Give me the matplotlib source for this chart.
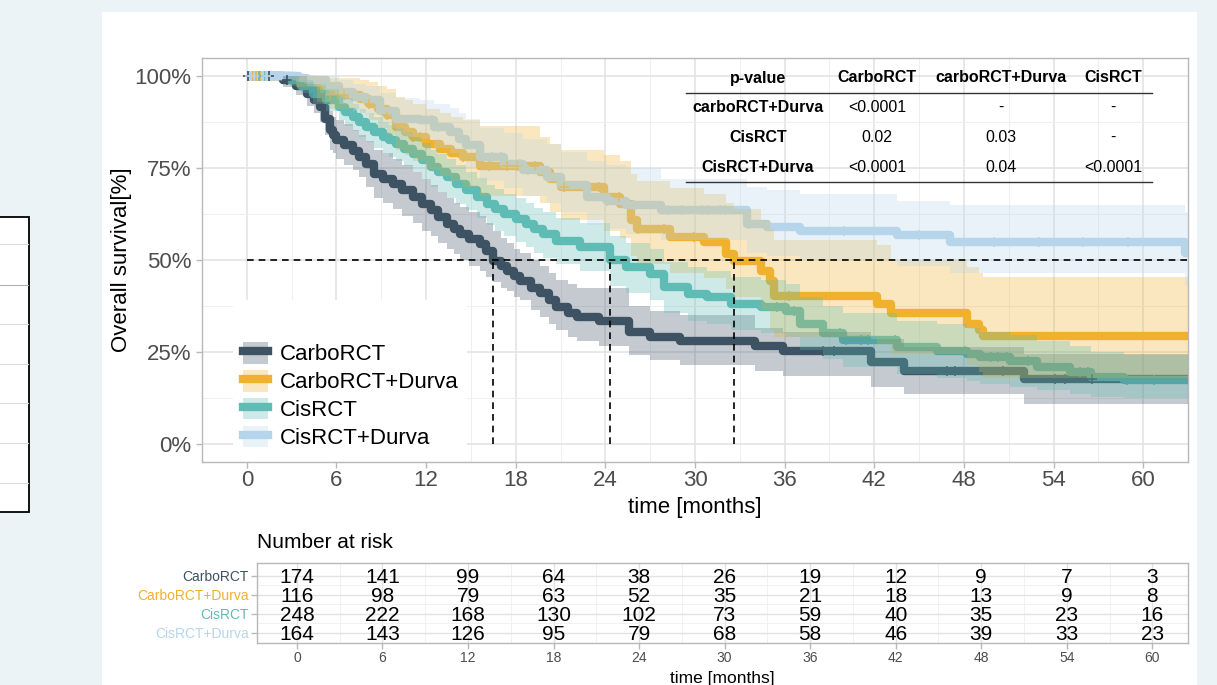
import numpy as np
import matplotlib
matplotlib.use("Agg")
import matplotlib.pyplot as plt
from matplotlib.patches import Rectangle, Patch
from matplotlib.lines import Line2D
from matplotlib.ticker import MultipleLocator, FixedLocator

plt.rcParams['font.family'] = ['Liberation Sans', 'DejaVu Sans']

# ---------------- data ----------------
groups = ["CarboRCT", "CarboRCT+Durva", "CisRCT", "CisRCT+Durva"]
colors = ["#3D5262", "#EFB12E", "#5FBCB4", "#B7D5EA"]
follow_up_end = 63.0

# CarboRCT
t_carbo = [0, 2.4, 3.3, 4.0, 4.5, 4.9, 5.25, 5.6, 5.8, 6.0, 6.5, 7.1, 7.5, 8.0, 8.5, 9.1, 9.8, 10.4,
           11.1, 11.7, 12.3, 12.8, 13.4, 13.9, 14.3, 14.9, 15.6, 16.0, 16.5, 17.0, 17.4, 17.9, 18.3, 19.0,
           19.6, 20.2, 20.7, 21.5, 22.1, 23.6, 25.6, 27.0, 29.0, 34.0, 35.9, 41.8, 44.0, 52.0]
s_carbo = [1.0, 0.99, 0.975, 0.953, 0.935, 0.916, 0.885, 0.853, 0.84, 0.826, 0.812, 0.798, 0.78, 0.762,
           0.735, 0.72, 0.708, 0.69, 0.671, 0.653, 0.635, 0.617, 0.599, 0.585, 0.571, 0.558, 0.544, 0.525,
           0.497, 0.483, 0.47, 0.457, 0.444, 0.425, 0.409, 0.39, 0.371, 0.355, 0.344, 0.335, 0.303, 0.29,
           0.28, 0.265, 0.253, 0.222, 0.199, 0.177]
lo_carbo = [1.0, 0.97, 0.95, 0.92, 0.9, 0.875, 0.84, 0.80, 0.79, 0.775, 0.76, 0.745, 0.725, 0.70, 0.67,
            0.655, 0.64, 0.62, 0.60, 0.58, 0.565, 0.545, 0.53, 0.515, 0.50, 0.485, 0.47, 0.455, 0.44,
            0.425, 0.415, 0.4, 0.39, 0.365, 0.345, 0.325, 0.31, 0.29, 0.28, 0.267, 0.24, 0.228, 0.215,
            0.199, 0.185, 0.153, 0.136, 0.109]
hi_carbo = [1.0, 1.0, 1.0, 0.985, 0.97, 0.955, 0.93, 0.905, 0.89, 0.88, 0.87, 0.855, 0.84, 0.825, 0.80,
            0.79, 0.775, 0.76, 0.74, 0.72, 0.705, 0.685, 0.67, 0.655, 0.645, 0.63, 0.62, 0.6, 0.58, 0.56,
            0.545, 0.53, 0.52, 0.5, 0.485, 0.465, 0.445, 0.435, 0.425, 0.425, 0.375, 0.36, 0.35, 0.315,
            0.305, 0.285, 0.262, 0.245]
c_carbo = [0.1, 1.5, 2.7, 38.6, 39.3, 46.9, 47.4, 50.6, 54.1, 54.8, 56.6]

# CarboRCT+Durva
t_cdur = [0, 3.3, 4.7, 5.6, 7.6, 8.2, 8.8, 9.4, 10.0, 10.6, 11.1, 12.0, 12.9, 13.7, 14.5, 15.6, 19.6,
          20.3, 21.0, 23.9, 25.0, 25.7, 26.1, 28.3, 30.6, 32.1, 32.6, 34.4, 35.0, 35.3, 42.2, 43.1, 48.2,
          49.0, 49.3]
s_cdur = [1.0, 0.989, 0.962, 0.948, 0.939, 0.926, 0.91, 0.894, 0.862, 0.848, 0.835, 0.817, 0.803, 0.79,
          0.78, 0.757, 0.739, 0.72, 0.70, 0.671, 0.653, 0.608, 0.585, 0.562, 0.549, 0.517, 0.497, 0.471,
          0.444, 0.401, 0.381, 0.357, 0.327, 0.31, 0.294]
lo_cdur = [1.0, 0.97, 0.93, 0.91, 0.9, 0.88, 0.86, 0.84, 0.80, 0.785, 0.77, 0.745, 0.73, 0.715, 0.70,
           0.675, 0.655, 0.63, 0.61, 0.58, 0.56, 0.51, 0.49, 0.465, 0.45, 0.42, 0.40, 0.365, 0.31, 0.29,
           0.27, 0.245, 0.215, 0.195, 0.18]
hi_cdur = [1.0, 1.0, 1.0, 0.995, 0.99, 0.985, 0.975, 0.965, 0.945, 0.935, 0.925, 0.91, 0.9, 0.89, 0.88,
           0.865, 0.835, 0.815, 0.80, 0.785, 0.77, 0.735, 0.715, 0.695, 0.68, 0.655, 0.64, 0.61, 0.585,
           0.555, 0.54, 0.50, 0.48, 0.465, 0.455]
c_cdur = [0.4, 0.6, 0.9, 5.6, 6.1, 6.5, 8.2, 9.4, 11.1, 11.6, 14.5, 16.2, 17.4, 18.1, 19.3,
          21.2, 23.6, 24.9, 26.2, 27.9, 29.9, 36.3]

# CisRCT
t_cis = [0, 2.9, 3.6, 4.4, 5.3, 6.2, 6.6, 7.1, 7.5, 8.0, 8.5, 9.1, 9.5, 10.0, 10.5, 11.1, 11.7, 12.3,
         12.8, 13.4, 14.0, 14.7, 15.4, 16.1, 16.6, 17.2, 18.0, 18.7, 19.2, 19.8, 20.7, 22.3, 24.3, 25.4,
         27.0, 27.9, 29.5, 30.8, 32.4, 34.4, 36.1, 37.0, 38.6, 39.9, 43.5, 46.2, 48.2, 49.1, 51.1, 52.9,
         55.1, 56.5, 58.7]
s_cis = [1.0, 0.989, 0.975, 0.953, 0.935, 0.916, 0.903, 0.889, 0.876, 0.862, 0.848, 0.835, 0.826, 0.817,
         0.803, 0.789, 0.771, 0.753, 0.74, 0.726, 0.708, 0.69, 0.671, 0.653, 0.64, 0.626, 0.612, 0.599,
         0.585, 0.571, 0.553, 0.535, 0.499, 0.48, 0.462, 0.426, 0.408, 0.399, 0.381, 0.371, 0.362, 0.327,
         0.30, 0.281, 0.262, 0.253, 0.244, 0.235, 0.226, 0.208, 0.194, 0.181, 0.172]
lo_cis = [1.0, 0.975, 0.955, 0.925, 0.905, 0.88, 0.865, 0.85, 0.835, 0.82, 0.805, 0.79, 0.78, 0.77,
          0.755, 0.74, 0.72, 0.70, 0.685, 0.67, 0.652, 0.635, 0.615, 0.595, 0.58, 0.565, 0.55, 0.535,
          0.52, 0.505, 0.49, 0.47, 0.43, 0.41, 0.39, 0.355, 0.335, 0.325, 0.31, 0.30, 0.29, 0.255, 0.23,
          0.21, 0.19, 0.18, 0.17, 0.163, 0.155, 0.145, 0.135, 0.128, 0.125]
hi_cis = [1.0, 1.0, 0.99, 0.98, 0.965, 0.95, 0.94, 0.925, 0.912, 0.9, 0.888, 0.875, 0.868, 0.86, 0.848,
          0.835, 0.818, 0.80, 0.788, 0.775, 0.758, 0.74, 0.722, 0.705, 0.692, 0.68, 0.668, 0.655, 0.642,
          0.63, 0.615, 0.60, 0.565, 0.545, 0.53, 0.495, 0.48, 0.47, 0.455, 0.445, 0.435, 0.40, 0.375,
          0.355, 0.335, 0.325, 0.315, 0.305, 0.295, 0.28, 0.265, 0.25, 0.24]
c_cis = [0.8, 1.2, 35.5, 36.6, 39.7, 40.1, 41.1, 41.6, 43.4, 48.1, 49.8, 50.3, 50.9, 52.3, 55.8, 56.3, 58.9, 60.7]

# CisRCT+Durva
t_cdv = [0, 3.5, 4.0, 5.3, 6.2, 7.1, 8.0, 8.9, 10.0, 11.6, 12.5, 13.6, 14.2, 14.7, 15.6, 17.2, 18.5,
         20.1, 21.0, 22.8, 24.1, 25.4, 27.7, 33.5, 34.8, 37.0, 43.5, 47.1, 62.8]
s_cdv = [1.0, 0.995, 0.99, 0.975, 0.957, 0.943, 0.935, 0.907, 0.885, 0.88, 0.862, 0.848, 0.83, 0.812,
         0.78, 0.762, 0.744, 0.726, 0.705, 0.671, 0.662, 0.649, 0.635, 0.599, 0.589, 0.58, 0.567, 0.549,
         0.52]
lo_cdv = [1.0, 0.985, 0.975, 0.95, 0.925, 0.905, 0.895, 0.86, 0.835, 0.83, 0.805, 0.79, 0.77, 0.75,
          0.715, 0.695, 0.675, 0.655, 0.63, 0.595, 0.585, 0.57, 0.555, 0.52, 0.51, 0.50, 0.485, 0.465,
          0.43]
hi_cdv = [1.0, 1.0, 1.0, 1.0, 0.99, 0.98, 0.975, 0.955, 0.94, 0.935, 0.925, 0.915, 0.9, 0.885, 0.86,
          0.845, 0.83, 0.815, 0.795, 0.77, 0.76, 0.75, 0.72, 0.70, 0.69, 0.68, 0.66, 0.65, 0.63]
c_cdv = [0.2, 0.5, 1.3, 9.6, 12.4, 12.8, 16.4, 17.0, 18.3, 18.8, 19.6, 20.2, 24.1, 25.9, 28.2, 29.1,
         30.5, 30.9, 31.7, 32.0, 33.6, 40.0, 45.0, 50.0, 53.0, 56.0, 59.0]

curves = [
    (t_carbo, s_carbo, lo_carbo, hi_carbo, c_carbo),
    (t_cdur, s_cdur, lo_cdur, hi_cdur, c_cdur),
    (t_cis, s_cis, lo_cis, hi_cis, c_cis),
    (t_cdv, s_cdv, lo_cdv, hi_cdv, c_cdv),
]

# p-value table
p_header = ["p-value", "CarboRCT", "carboRCT+Durva", "CisRCT"]
p_rows = ["carboRCT+Durva", "CisRCT", "CisRCT+Durva"]
p_values = [["<0.0001", "-", "-"],
            ["0.02", "0.03", "-"],
            ["<0.0001", "0.04", "<0.0001"]]

# number at risk
risk_times = [0, 6, 12, 18, 24, 30, 36, 42, 48, 54, 60]
risk_carbo = [174, 141, 99, 64, 38, 26, 19, 12, 9, 7, 3]
risk_cdur = [116, 98, 79, 63, 52, 35, 21, 18, 13, 9, 8]
risk_cis = [248, 222, 168, 130, 102, 73, 59, 40, 35, 23, 16]
risk_cdv = [164, 143, 126, 95, 79, 68, 58, 46, 39, 33, 23]
risk = [risk_carbo, risk_cdur, risk_cis, risk_cdv]

# ---------------- figure ----------------
W, H = 1217, 685
fig = plt.figure(figsize=(W / 100, H / 100), dpi=100, facecolor='#EBF3F6')


def fx(px):
    return px / W


def fy(py):
    return 1 - py / H


# white page behind the chart
fig.patches.append(Rectangle((fx(102), 0), fx(1197) - fx(102), fy(12), transform=fig.transFigure,
                             facecolor='white', edgecolor='none', zorder=-5))
# partial box at the left edge
fig.patches.append(Rectangle((fx(-5), fy(512)), fx(34), (512 - 217) / H, transform=fig.transFigure,
                             facecolor='white', edgecolor='black', lw=1.3, zorder=-4))
for yy in [244, 285, 324, 364, 403, 443, 483]:
    fig.add_artist(Line2D([0, fx(28)], [fy(yy), fy(yy)], transform=fig.transFigure,
                          color='#B0B0B0' if yy == 285 else '#DDDDDD', lw=0.8, zorder=-3))

grid_major = '#E2E2E2'
grid_minor = '#EFEFEF'
border = '#B8B8B8'
tick_text = '#4D4D4D'

# ---------------- survival plot ----------------
ax = fig.add_axes([fx(202), fy(462), fx(1188) - fx(202), (462 - 58) / H])
ax.set_xlim(-3, 63)
ax.set_ylim(-0.05, 1.05)
ax.set_axisbelow(True)
ax.xaxis.set_major_locator(MultipleLocator(6))
ax.xaxis.set_minor_locator(MultipleLocator(3))
ax.yaxis.set_major_locator(FixedLocator([0, 0.25, 0.5, 0.75, 1.0]))
ax.yaxis.set_minor_locator(FixedLocator([0.125, 0.375, 0.625, 0.875]))
ax.set_yticklabels(["0%", "25%", "50%", "75%", "100%"])
ax.grid(which='major', color=grid_major, lw=1.1)
ax.grid(which='minor', color=grid_minor, lw=0.7)
ax.tick_params(which='major', labelsize=16, labelcolor=tick_text, color=border, length=4, width=1)
ax.tick_params(axis='x', pad=2)
ax.tick_params(axis='y', pad=3.5)
ax.tick_params(which='minor', length=0)
for sp in ax.spines.values():
    sp.set_color(border)
    sp.set_linewidth(1)

# white legend background hides the grid
ax.add_patch(Rectangle(((233 - 202) / 986, 0), (467 - 233) / 986, (462 - 300) / 404,
                       transform=ax.transAxes, facecolor='white', edgecolor='none', zorder=0.8))

# lines and censor marks first, confidence ribbons on top (as survminer does)
for (t, s, lo, hi, cens), col in zip(curves, colors):
    te = np.append(t, follow_up_end)
    se = np.append(s, s[-1])
    ax.step(te, se, where='post', color=col, lw=6, zorder=2, solid_capstyle='butt')
    idx = np.searchsorted(np.array(t), np.array(cens), side='right') - 1
    ax.plot(cens, np.array(s)[idx], ls='none', marker='+', ms=7, mew=1.2, color=col, zorder=2.1)
for (t, s, lo, hi, cens), col in zip(curves, colors):
    te = np.append(t, follow_up_end)
    le = np.append(lo, lo[-1])
    he = np.append(hi, hi[-1])
    ax.fill_between(te, le, he, step='post', color=col, alpha=0.3, lw=0, zorder=3)

# median lines
medians = []
for t, s, lo, hi, cens in curves:
    below = np.nonzero(np.array(s) <= 0.5)[0]
    if len(below):
        medians.append(t[below[0]])
ax.plot([0, follow_up_end], [0.5, 0.5], color='black', lw=1.2, ls=(0, (4, 3)), zorder=4)
for m in medians:
    ax.plot([m, m], [0, 0.5], color='black', lw=1.2, ls=(0, (4, 3)), zorder=4)

ax.set_xlabel("time [months]", fontsize=16, labelpad=4)
ax.set_ylabel("Overall survival[%]", fontsize=16, labelpad=2)

handles = [(Patch(facecolor=c, alpha=0.3, edgecolor='none'), Line2D([], [], color=c, lw=6))
           for c in colors]
ax.legend(handles, groups, loc='upper left', bbox_to_anchor=(fx(243), fy(342)),
          bbox_transform=fig.transFigure, frameon=False, fontsize=16, handlelength=1.13,
          handleheight=1.13, labelspacing=0.2, handletextpad=0.55, borderpad=0, borderaxespad=0)

# p-value table
col_x = [758, 877, 1001, 1113]
row_y = [107, 137, 167]
for x, txt in zip(col_x, p_header):
    fig.text(fx(x), fy(78), txt, ha='center', va='center', fontsize=11.5, fontweight='bold', zorder=6)
for y, lab, vals in zip(row_y, p_rows, p_values):
    fig.text(fx(col_x[0]), fy(y), lab, ha='center', va='center', fontsize=11.5, fontweight='bold', zorder=6)
    for x, v in zip(col_x[1:], vals):
        fig.text(fx(x), fy(y), v, ha='center', va='center', fontsize=11.5, zorder=6)
for yy in [93, 181.5]:
    fig.add_artist(Line2D([fx(686), fx(1152)], [fy(yy), fy(yy)], transform=fig.transFigure,
                          color='#333333', lw=1, zorder=6))

# ---------------- number at risk table ----------------
ax2 = fig.add_axes([fx(257), fy(643), fx(1188) - fx(257), (643 - 563) / H])
ax2.set_xlim(-2.8, 62.5)
ax2.set_ylim(0.47, 4.68)
ax2.set_axisbelow(True)
ax2.xaxis.set_major_locator(FixedLocator(risk_times))
ax2.xaxis.set_minor_locator(MultipleLocator(3))
ax2.yaxis.set_major_locator(FixedLocator([4, 3, 2, 1]))
ax2.yaxis.set_minor_locator(FixedLocator([3.5, 2.5, 1.5]))
ax2.set_yticklabels(groups)
ax2.grid(which='major', color=grid_major, lw=1.0)
ax2.grid(which='minor', color=grid_minor, lw=0.6)
ax2.tick_params(which='major', labelsize=10, labelcolor=tick_text, color=border, length=4, width=1, pad=2)
ax2.tick_params(which='minor', length=0)
for lab, col in zip(ax2.get_yticklabels(), colors):
    lab.set_color(col)
for sp in ax2.spines.values():
    sp.set_color(border)
    sp.set_linewidth(1)
for i, row in enumerate(risk):
    for tt, n in zip(risk_times, row):
        ax2.text(tt, 4 - i - 0.08, str(n), ha='center', va='center', fontsize=15)

fig.text(fx(257), fy(543), "Number at risk", ha='left', va='center', fontsize=15)
fig.text(fx(722), fy(679), "time [months]", ha='center', va='center', fontsize=12.5)

fig.savefig("out.png", dpi=100, facecolor=fig.get_facecolor())
